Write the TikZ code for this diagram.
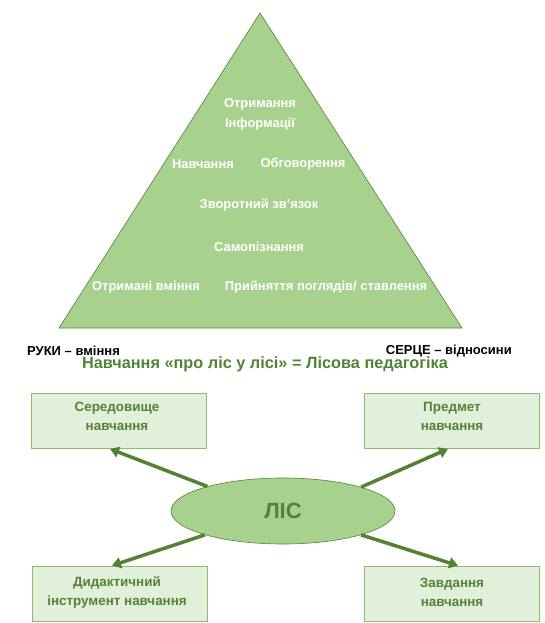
\documentclass[tikz,border=0pt]{standalone}
\usepackage{fontspec}
\setmainfont{Liberation Sans}
\usetikzlibrary{arrows.meta,shapes.geometric}

\definecolor{leaf}{RGB}{169,209,142}
\definecolor{leafdark}{RGB}{84,130,53}
\definecolor{leaflight}{RGB}{226,239,218}
\definecolor{leafline}{RGB}{140,190,110}

\tikzset{
  pyrtext/.style={text=white, font=\bfseries\fontsize{12.9}{15}\selectfont, inner sep=0pt},
  goalbox/.style={draw=leafline, fill=leaflight, line width=0.8pt, minimum width=175pt, minimum height=55pt, inner sep=0pt},
  boxtext/.style={text=leafdark, font=\bfseries\fontsize{13.4}{19}\selectfont, align=center, inner sep=0pt},
  link/.style={draw=leafdark, line width=3.5pt, -{Triangle[length=9pt,width=11pt]}}
}

\begin{document}
\begin{tikzpicture}[x=1pt, y=-1pt]
  \useasboundingbox (0,0) rectangle (544,623);

  % Pyramid
  \coordinate (top) at (260,13);
  \coordinate (bl) at (59,328);
  \coordinate (br) at (462,328);
  \draw[leafdark, fill=leaf, line width=0.6pt] (top) -- (bl) -- (br) -- cycle;

  % Texts in the pyramid
  \node[pyrtext] (info1) at (260,104) {Отримання};
  \node[pyrtext] (info2) at (260,124) {Інформації};
  \node[pyrtext] (learn) at (203,164) {Навчання};
  \node[pyrtext] (discuss) at (303,164) {Обговорення};
  \node[pyrtext] (feedback) at (259,205) {Зворотний зв'язок};
  \node[pyrtext] (self) at (259,247) {Самопізнання};
  \node[pyrtext] (skills) at (146,287) {Отримані вміння};
  \node[pyrtext] (views) at (326,287) {Прийняття поглядів/ ставлення};

  % Captions under the pyramid
  \node[font=\bfseries\fontsize{13}{15}\selectfont, anchor=west, inner sep=0pt] (hands) at (27,351) {РУКИ – вміння};
  \node[font=\bfseries\fontsize{13}{15}\selectfont, anchor=east, inner sep=0pt] (heart) at (512,351) {СЕРЦЕ – відносини};
  \node[text=leafdark, font=\bfseries\fontsize{16.3}{18}\selectfont, inner sep=0pt] (title) at (265,364) {Навчання «про ліс у лісі» = Лісова педагогіка};

  % Forest in the middle
  \node[ellipse, draw=leafdark, fill=leaf, line width=0.6pt, minimum width=224pt, minimum height=66pt,
        text=leafdark, font=\bfseries\fontsize{22}{24}\selectfont] (forest) at (283,511) {ЛІС};

  % Boxes round it
  \node[goalbox] (env) at (119,421) {};
  \node[goalbox] (subject) at (452,421) {};
  \node[goalbox] (tool) at (120,593.5) {};
  \node[goalbox] (task) at (452,593.5) {};

  \node[boxtext] (envtext) at (117,416) {Середовище\\навчання};
  \node[boxtext] (subjecttext) at (452,416) {Предмет\\навчання};
  \node[boxtext] (tooltext) at (117,592) {Дидактичний\\інструмент навчання};
  \node[boxtext] (tasktext) at (452,592) {Завдання\\навчання};

  % Arrows
  \draw[link] (forest.162) -- ([xshift=-9pt]env.south);
  \draw[link] (forest.17) -- ([xshift=-4pt]subject.south);
  \draw[link] (forest.197) -- ([xshift=-8pt]tool.north);
  \draw[link] (forest.343) -- ([xshift=6pt]task.north);
\end{tikzpicture}
\end{document}
